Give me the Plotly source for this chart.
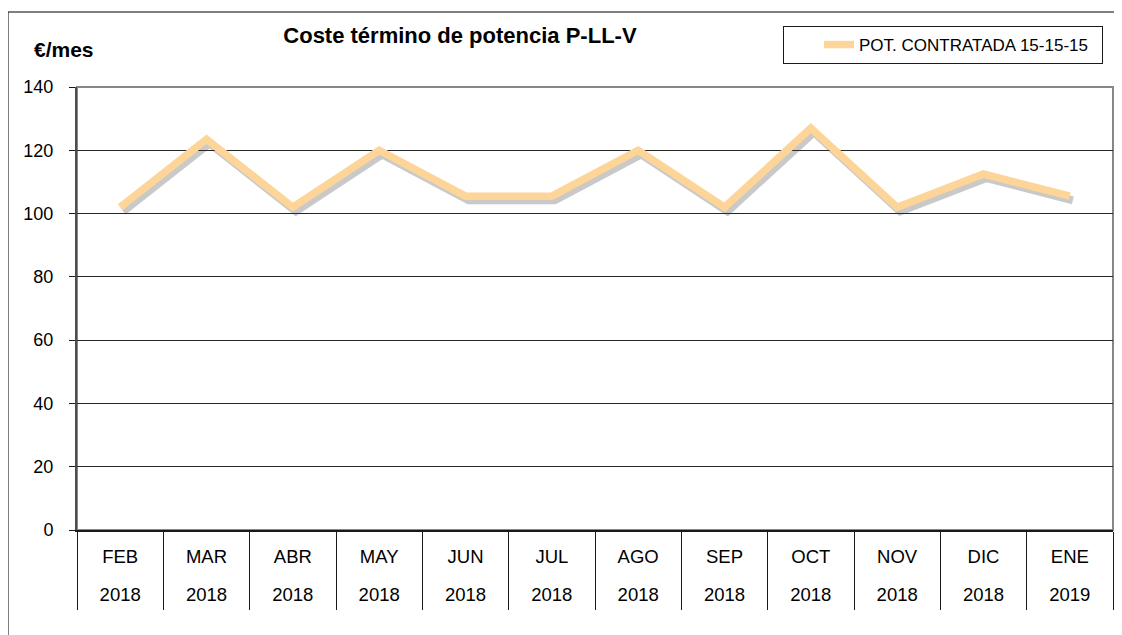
import plotly.graph_objs as go

# datos
meses = ['FEB', 'MAR', 'ABR', 'MAY', 'JUN', 'JUL', 'AGO', 'SEP', 'OCT', 'NOV', 'DIC', 'ENE']
anios = ['2018', '2018', '2018', '2018', '2018', '2018', '2018', '2018', '2018', '2018', '2018', '2019']
coste = [102, 123.5, 102, 120, 105.5, 105.5, 120, 102, 127, 102, 112.5, 105.5]
serie = 'POT. CONTRATADA 15-15-15'

y_max = 140
color_linea = '#FDD598'
arial = 'Liberation Sans, Arial, sans-serif'

# offset de la sombra (en unidades de eje)
dx = 0.035
dy = 1.3

fig = go.Figure()

# traza invisible en los ejes principales (meses)
fig.add_trace(go.Scatter(x = meses, y = coste,
                         mode = 'lines',
                         line = dict(color = 'rgba(0,0,0,0)', width = 1),
                         hoverinfo = 'skip',
                         showlegend = False))

# sombra de la linea
fig.add_trace(go.Scatter(x = meses, y = coste,
                         mode = 'lines',
                         line = dict(color = 'rgba(60,60,60,0.28)', width = 8),
                         hoverinfo = 'skip',
                         showlegend = False,
                         xaxis = 'x2', yaxis = 'y2'))

fig.add_trace(go.Scatter(x = meses, y = coste,
                         mode = 'lines',
                         name = serie,
                         line = dict(color = color_linea, width = 7.5),
                         xaxis = 'x3', yaxis = 'y3'))

# anios: segunda fila de etiquetas
fig.add_trace(go.Scatter(x = list(range(len(anios))), y = [None] * len(anios),
                         showlegend = False, hoverinfo = 'skip',
                         xaxis = 'x4', yaxis = 'y'))

fig.update_layout(
    width = 1114, height = 627,
    margin = dict(l = 69, r = 9, t = 79, b = 105),
    paper_bgcolor = 'white', plot_bgcolor = 'white',
    font = dict(family = arial, color = 'black'),
    title = dict(text = '<b>Coste término de potencia P-LL-V</b>',
                 x = 0.4057, y = 0.957, xanchor = 'center', yanchor = 'middle',
                 font = dict(size = 22, family = arial, color = 'black')),
    xaxis = dict(type = 'category', categoryorder = 'array', categoryarray = meses,
                 range = [-0.5, len(meses) - 0.5], automargin = False,
                 showgrid = False, zeroline = False,
                 showline = True, linecolor = '#1a1a1a', linewidth = 2,
                 ticks = 'outside', tickson = 'boundaries', ticklen = 78,
                 tickcolor = '#1a1a1a', tickwidth = 1,
                 ticklabelstandoff = 9,
                 tickfont = dict(size = 18.5, family = arial)),
    xaxis2 = dict(type = 'category', overlaying = 'x', anchor = 'y2', visible = False,
                  range = [-0.5 - dx, len(meses) - 0.5 - dx]),
    xaxis3 = dict(type = 'category', overlaying = 'x', anchor = 'y3', visible = False,
                  range = [-0.5, len(meses) - 0.5]),
    xaxis4 = dict(overlaying = 'x', anchor = 'y', side = 'bottom', automargin = False,
                  range = [-0.5, len(anios) - 0.5],
                  tickmode = 'array', tickvals = list(range(len(anios))), ticktext = anios,
                  showgrid = False, zeroline = False, showline = False, ticks = '',
                  ticklabelstandoff = 51,
                  tickfont = dict(size = 18.5, family = arial)),
    yaxis = dict(range = [0, y_max], dtick = 20, automargin = False,
                 showgrid = True, gridcolor = '#262626', gridwidth = 1,
                 zeroline = False,
                 showline = True, linecolor = '#4d4d4d', linewidth = 2,
                 ticks = 'outside', ticklen = 6, tickcolor = '#1a1a1a',
                 ticklabelstandoff = 12,
                 tickfont = dict(size = 18, family = arial)),
    yaxis2 = dict(overlaying = 'y', anchor = 'x2', visible = False,
                  range = [dy, y_max + dy]),
    yaxis3 = dict(overlaying = 'y', anchor = 'x3', visible = False,
                  range = [0, y_max]),
    legend = dict(xref = 'container', yref = 'container',
                  x = 0.6957, y = 0.9713, xanchor = 'left', yanchor = 'top',
                  orientation = 'h', entrywidth = 238, indentation = 35,
                  bgcolor = 'white', bordercolor = '#1a1a1a', borderwidth = 1,
                  font = dict(size = 17, family = arial)),
    showlegend = True,
)

# borde del area de trazado y marco exterior
fig.add_shape(type = 'rect', xref = 'paper', yref = 'paper',
              x0 = 0, x1 = 1, y0 = 0, y1 = 1, layer = 'between',
              line = dict(color = '#878787', width = 2))
fig.add_shape(type = 'rect', xref = 'paper', yref = 'paper',
              x0 = -0.0666, x1 = 1.02, y0 = -0.25, y1 = 1.1693,
              line = dict(color = 'black', width = 1))

fig.add_annotation(text = '<b>€/mes</b>', xref = 'paper', yref = 'paper',
                   x = -0.0435, y = 1.085, xanchor = 'left', yanchor = 'middle',
                   showarrow = False, font = dict(size = 21, family = arial))

fig.write_html('out.html')
